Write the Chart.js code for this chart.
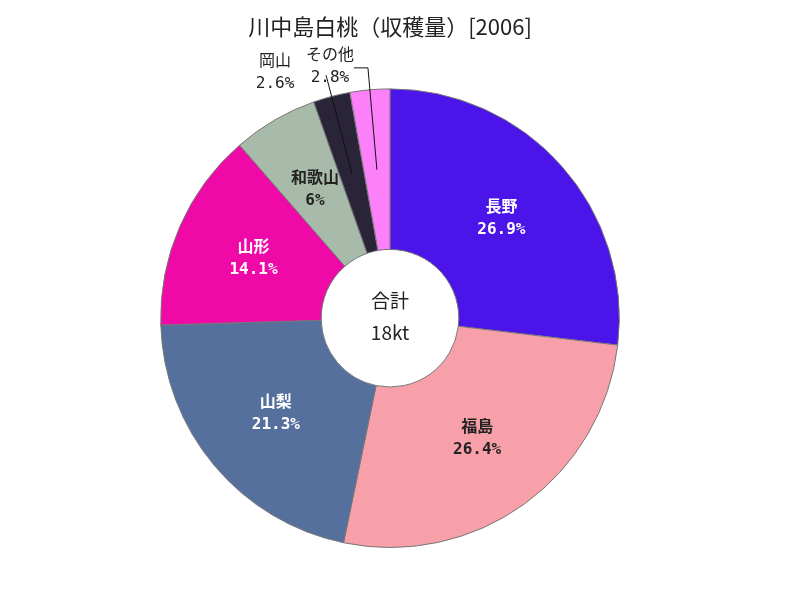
<!DOCTYPE html>
<html>
<head>
<meta charset="utf-8">
<script src="https://cdn.jsdelivr.net/npm/chart.js@4/dist/chart.umd.min.js"></script>
<style>
html,body{margin:0;padding:0;background:#fff;}
#wrap{width:800px;height:600px;}
</style>
</head>
<body>
<div id="wrap"><canvas id="c" width="800" height="600"></canvas></div>
<script>
const titleText = '川中島白桃（収穫量）[2006]';
const categories = ['長野', '福島', '山梨', '山形', '和歌山', '岡山', 'その他'];
const shares = [26.9, 26.4, 21.3, 14.1, 6, 2.6, 2.8];
const pctLabels = ['26.9%', '26.4%', '21.3%', '14.1%', '6%', '2.6%', '2.8%'];
const centerLabels = ['合計', '18kt'];

const colors = ['#4b14e8', '#f8a0aa', '#55709c', '#ef0aa8', '#a8bbaa', '#2a2438', '#fb80fa'];
const textColors = ['#ffffff', '#222222', '#ffffff', '#ffffff', '#222222', '#222222', '#222222'];
// outside label styling: [text dx, line1 dy, line2 dy, horizontal elbow length]
const outsideStyle = {5: [-51, -13, 9, 0], 6: [-38, -12, 10, 14]};

const labelFont = 'bold 16px "DejaVu Sans Mono", "Noto Sans CJK JP", sans-serif';
const outFont = '16px "DejaVu Sans Mono", "Noto Sans CJK JP", sans-serif';

const labelPlugin = {
  id: 'sliceLabels',
  afterDatasetsDraw(chart) {
    const ctx = chart.ctx;
    const meta = chart.getDatasetMeta(0);
    ctx.save();
    ctx.textAlign = 'center';
    ctx.textBaseline = 'middle';
    meta.data.forEach((arc, i) => {
      const st = outsideStyle[i];
      if (!st) {
        const p = arc.tooltipPosition();
        ctx.font = labelFont;
        ctx.fillStyle = textColors[i];
        ctx.fillText(categories[i], p.x, p.y - 11);
        ctx.fillText(pctLabels[i], p.x, p.y + 11);
      } else {
        const mid = (arc.startAngle + arc.endAngle) / 2;
        const rIn = (arc.innerRadius + arc.outerRadius) / 2;
        const rOut = arc.outerRadius + 22;
        const x1 = arc.x + Math.cos(mid) * rIn, y1 = arc.y + Math.sin(mid) * rIn;
        const x2 = arc.x + Math.cos(mid) * rOut, y2 = arc.y + Math.sin(mid) * rOut;
        ctx.strokeStyle = '#111';
        ctx.lineWidth = 1;
        ctx.beginPath();
        ctx.moveTo(x1, y1);
        ctx.lineTo(x2, y2);
        if (st[3]) ctx.lineTo(x2 - st[3], y2);
        ctx.stroke();
        ctx.font = outFont;
        ctx.fillStyle = textColors[i];
        ctx.fillText(categories[i], x2 + st[0], y2 + st[1]);
        ctx.fillText(pctLabels[i], x2 + st[0], y2 + st[2]);
      }
    });
    // center text
    const a = meta.data[0];
    ctx.font = '19px "Noto Sans CJK JP", sans-serif';
    ctx.fillStyle = '#222';
    ctx.fillText(centerLabels[0], a.x, a.y - 17);
    ctx.fillText(centerLabels[1], a.x, a.y + 15);
    ctx.restore();
  }
};

new Chart(document.getElementById('c'), {
  type: 'doughnut',
  data: {
    labels: categories,
    datasets: [{
      data: shares,
      backgroundColor: colors,
      borderColor: '#777777',
      borderWidth: 1
    }]
  },
  options: {
    responsive: false,
    animation: false,
    cutout: '30%',
    layout: { padding: { left: 0, right: 20, top: 0, bottom: 52 } },
    plugins: {
      legend: { display: false },
      tooltip: { enabled: false },
      title: {
        display: true,
        text: titleText,
        color: '#222',
        font: { family: '"Noto Sans CJK JP", sans-serif', size: 22, weight: 'normal', lineHeight: 1.2 },
        padding: { top: 13, bottom: 49 }
      }
    }
  },
  plugins: [labelPlugin]
});
</script>
</body>
</html>
